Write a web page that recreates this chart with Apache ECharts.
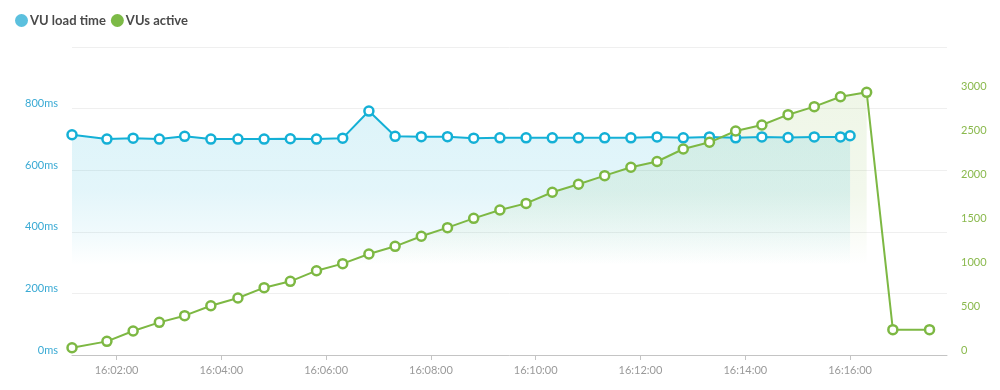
<!DOCTYPE html>
<html>
<head>
<meta charset="utf-8">
<script src="https://cdn.jsdelivr.net/npm/echarts@6/dist/echarts.min.js"></script>
<style>
html,body{margin:0;padding:0;background:#fff;}
#c{width:1000px;height:390px;}
</style>
</head>
<body>
<div id="c"></div>
<script>
const DAY = '2024-01-01 ';
const loadTimeStamps = ['16:01:09','16:01:49','16:02:19','16:02:49','16:03:18','16:03:48','16:04:19','16:04:49','16:05:19','16:05:49',
  '16:06:19','16:06:49','16:07:19','16:07:49','16:08:19','16:08:49','16:09:19','16:09:49','16:10:19','16:10:49',
  '16:11:19','16:11:49','16:12:19','16:12:49','16:13:19','16:13:49','16:14:19','16:14:49','16:15:19','16:15:49','16:16:00'];
const loadTimeMs = [715,701,704,701,710,701,701,701,702,701,
  704,792,710,709,709,704,705,705,705,705,
  705,705,708,705,708,705,708,706,708,708,712];
const vuTimeStamps = ['16:01:09','16:01:49','16:02:19','16:02:49','16:03:18','16:03:48','16:04:19','16:04:49','16:05:19','16:05:49',
  '16:06:19','16:06:49','16:07:19','16:07:49','16:08:19','16:08:49','16:09:19','16:09:49','16:10:19','16:10:49',
  '16:11:19','16:11:49','16:12:19','16:12:49','16:13:19','16:13:49','16:14:19','16:14:49','16:15:19','16:15:49',
  '16:16:19','16:16:49','16:17:31'];
const vusActive = [83,155,273,371,447,560,648,765,837,958,
  1038,1148,1235,1349,1447,1553,1648,1723,1849,1940,
  2038,2133,2199,2341,2417,2545,2614,2731,2822,2935,
  2985,288,288];
const leftTicks = [0,200,400,600,800,1000];
const rightTicks = [0,500,1000,1500,2000,2500,3000,3500];

const BLUE = '#14b0d6', GREEN = '#7db843';
const blueData = loadTimeStamps.map((t,i)=>[DAY+t, loadTimeMs[i]]);
const greenData = vuTimeStamps.map((t,i)=>[DAY+t, vusActive[i]]);
const peakIdx = vusActive.indexOf(Math.max(...vusActive));
const greenAreaData = greenData.slice(0, peakIdx+1);

const chart = echarts.init(document.getElementById('c'), null, {renderer:'canvas'});
const FONT = 'Lato';
chart.setOption({
  animation:false,
  backgroundColor:'#fff',
  textStyle:{fontFamily:FONT},
  legend:{
    left:10, top:9, icon:'circle', itemWidth:13, itemHeight:13, itemGap:5,
    textStyle:{fontFamily:FONT, fontWeight:'bold', fontSize:13, color:'#4a4a4a', padding:[0,0,0,-3]},
    data:[
      {name:'VU load time', itemStyle:{color:'#5bc0de', borderWidth:0}},
      {name:'VUs active', itemStyle:{color:'#7cba46', borderWidth:0}}
    ]
  },
  grid:{left:72, right:53, top:47, bottom:35},
  xAxis:{
    type:'time',
    min:DAY+'16:01:09', max:DAY+'16:17:51',
    splitNumber:5,
    axisLine:{lineStyle:{color:'#c4c4c4', width:1}},
    axisTick:{show:true, length:5, lineStyle:{color:'#c4c4c4'}},
    minorTick:{show:false},
    axisLabel:{color:'#9a9a9a', fontSize:11, fontFamily:FONT, margin:10, showMinLabel:false, showMaxLabel:false,
      formatter:'{HH}:{mm}:{ss}'},
    splitLine:{show:false}
  },
  yAxis:[
    {type:'value', min:leftTicks[0], max:leftTicks[leftTicks.length-1], interval:200,
      axisLine:{show:false}, axisTick:{show:false},
      axisLabel:{color:'#3aaad4', fontSize:11, fontFamily:FONT, margin:14, showMaxLabel:false, verticalAlign:'bottom', lineHeight:10,
        formatter: v => v + 'ms'},
      splitLine:{lineStyle:{color:'#efefef', width:1}}
    },
    {type:'value', min:rightTicks[0], max:rightTicks[rightTicks.length-1], interval:500, position:'right',
      axisLine:{show:false}, axisTick:{show:false},
      axisLabel:{color:'#8ab94d', fontSize:11, fontFamily:FONT, margin:14, showMaxLabel:false, verticalAlign:'bottom', lineHeight:10, align:'left',
        formatter: v => String(v)},
      splitLine:{show:false}
    }
  ],
  series:[
    {
      name:'VU load time', type:'line', yAxisIndex:0, data:blueData, z:3,
      symbol:'circle', symbolSize:9, showSymbol:true,
      lineStyle:{color:BLUE, width:2},
      itemStyle:{color:'#fff', borderColor:BLUE, borderWidth:2.5},
      areaStyle:{color:{type:'linear', global:true, x:0, y:100, x2:0, y2:265,
        colorStops:[{offset:0,color:'rgba(20,176,214,0.21)'},{offset:0.55,color:'rgba(20,176,214,0.17)'},{offset:0.8,color:'rgba(20,176,214,0.09)'},{offset:1,color:'rgba(20,176,214,0)'}]}}
    },
    {
      name:'vuArea', type:'line', yAxisIndex:1, data:greenAreaData, z:2,
      symbol:'none', lineStyle:{width:0}, silent:true,
      areaStyle:{color:{type:'linear', global:true, x:0, y:90, x2:0, y2:265,
        colorStops:[{offset:0,color:'rgba(126,184,67,0.18)'},{offset:0.6,color:'rgba(126,184,67,0.14)'},{offset:0.8,color:'rgba(126,184,67,0.07)'},{offset:1,color:'rgba(126,184,67,0)'}]}}
    },
    {
      name:'VUs active', type:'line', yAxisIndex:1, data:greenData, z:4,
      symbol:'circle', symbolSize:9, showSymbol:true,
      lineStyle:{color:GREEN, width:2},
      itemStyle:{color:'#fff', borderColor:GREEN, borderWidth:2.5}
    }
  ]
});
</script>
</body>
</html>
